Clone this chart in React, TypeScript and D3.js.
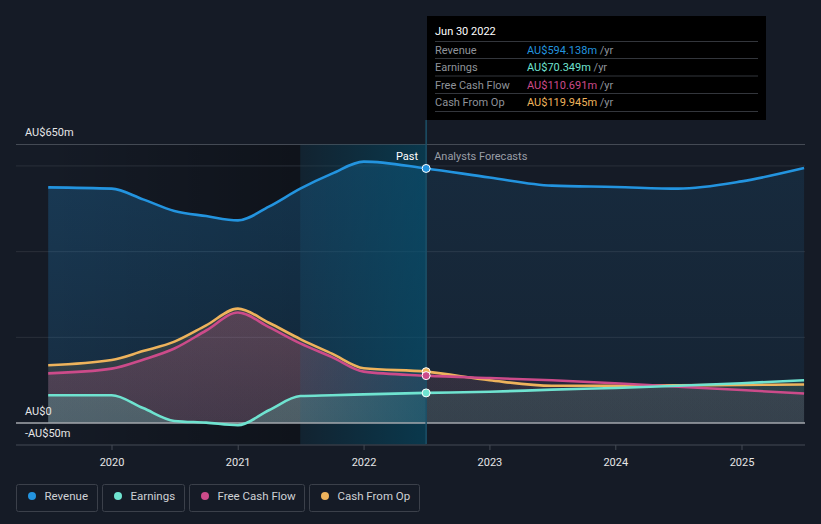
import React, { useEffect } from 'react';
import * as d3 from 'd3';

// period ends (past is quarterly, forecasts half-yearly)
const dates = [
  '2019-06-30', '2019-12-31', '2020-03-31', '2020-06-30', '2020-09-30', '2020-12-31',
  '2021-03-31', '2021-06-30', '2021-09-30', '2021-12-31', '2022-06-30', '2022-12-31',
  '2023-06-30', '2023-12-31', '2024-06-30', '2024-12-31', '2025-06-30',
];

// AU$m
const revenue = [550, 547, 522, 495, 483, 473, 505, 547, 582, 610, 594.138, 573, 554, 551, 547, 564, 595];
const earnings = [65, 65, 35, 5, 1, -5, 30, 63, 65, 67, 70.349, 73, 78, 82, 87, 93, 100];
const freeCashFlow = [116, 127, 148, 174, 216, 258, 224, 186, 154, 120, 110.691, 105, 100, 93, 85, 77, 69];
const cashFromOp = [135, 147, 168, 190, 228, 267, 234, 196, 162, 128, 119.945, 100, 87, 87, 88, 89, 90];

const yearTicks = [2020, 2021, 2022, 2023, 2024, 2025];
const gridValues = [0, 200, 400, 600];

const tooltipDate = 'Jun 30 2022';
const highlightStart = '2021-06-30';
const nowDate = '2022-06-30';

const series = [
  { name: 'Revenue', values: revenue, color: '#2394df', top: 0.26, bottom: 0.14, label: 'AU$594.138m' },
  { name: 'Earnings', values: earnings, color: '#6fe3d0', top: 0.3, bottom: 0.22, label: 'AU$70.349m' },
  { name: 'Free Cash Flow', values: freeCashFlow, color: '#cc4b8a', top: 0.3, bottom: 0.16, label: 'AU$110.691m' },
  { name: 'Cash From Op', values: cashFromOp, color: '#eeb35c', top: 0.22, bottom: 0.1, label: 'AU$119.945m' },
];

const W = 821;
const H = 524;
const FONT = 'Roboto, "Noto Sans", sans-serif';

const App = () => {
  useEffect(() => {
    document.body.style.margin = '0';
    document.body.style.background = '#151b26';
  }, []);

  const parse = d3.utcParse('%Y-%m-%d');
  const xs = dates.map(d => parse(d) as Date);

  // chart scales
  const x = d3.scaleUtc()
    .domain([new Date(Date.UTC(2020, 0, 1)), new Date(Date.UTC(2025, 0, 1))])
    .range([112, 742]);
  const y = d3.scaleLinear().domain([-50, 650]).range([444.5, 144.5]);

  const left = 16;
  const right = 805;
  const x0 = x(xs[0]);
  const xH = x(parse(highlightStart) as Date);
  const xNow = x(parse(nowDate) as Date);

  const line = (vals: number[]) =>
    d3.line<number>().x((_, i) => x(xs[i])).y(v => y(v)).curve(d3.curveMonotoneX)(vals) ?? '';
  const area = (vals: number[]) =>
    d3.area<number>().x((_, i) => x(xs[i])).y0(y(0)).y1(v => y(v)).curve(d3.curveMonotoneX)(vals) ?? '';

  const nowIdx = dates.indexOf(nowDate);
  // draw order: revenue, cash from op, fcf, earnings
  const order = [0, 3, 2, 1];

  return (
    <svg width={W} height={H} style={{ display: 'block', background: '#151b26', fontFamily: FONT }}>
      <defs>
        <linearGradient id="pastShade" x1="0" x2="1" y1="0" y2="0">
          <stop offset="0" stopColor="#000" stopOpacity={0} />
          <stop offset="1" stopColor="#000" stopOpacity={0.3} />
        </linearGradient>
        <linearGradient id="hl" x1="0" x2="1" y1="0" y2="0">
          <stop offset="0" stopColor="#00506c" stopOpacity={0.15} />
          <stop offset="1" stopColor="#00506c" stopOpacity={0.55} />
        </linearGradient>
        {series.map((s, i) => (
          <React.Fragment key={i}>
            <linearGradient id={`gp${i}`} gradientUnits="userSpaceOnUse" x1={0} x2={0} y1={y(650)} y2={y(0)}>
              <stop offset="0" stopColor={s.color} stopOpacity={s.top} />
              <stop offset="1" stopColor={s.color} stopOpacity={s.bottom} />
            </linearGradient>
            <linearGradient id={`gf${i}`} gradientUnits="userSpaceOnUse" x1={0} x2={0} y1={y(650)} y2={y(0)}>
              <stop offset="0" stopColor={s.color} stopOpacity={s.top * 0.5} />
              <stop offset="1" stopColor={s.color} stopOpacity={s.bottom * 0.5} />
            </linearGradient>
          </React.Fragment>
        ))}
        <clipPath id="pastClip"><rect x={0} y={0} width={xNow} height={H} /></clipPath>
        <clipPath id="futClip"><rect x={xNow} y={0} width={W - xNow} height={H} /></clipPath>
      </defs>

      {/* background bands */}
      <rect x={x0} y={y(650)} width={xH - x0} height={y(-50) - y(650)} fill="url(#pastShade)" />

      {/* grid */}
      <line x1={left} x2={right} y1={y(650)} y2={y(650)} stroke="#444a54" />
      {gridValues.filter(v => v > 0).map(v => (
        <line key={v} x1={left} x2={right} y1={y(v)} y2={y(v)} stroke="#2a303a" />
      ))}

      {/* areas */}
      <g clipPath="url(#pastClip)">
        {order.map(i => (
          <path key={i} d={area(series[i].values)} fill={`url(#gp${i})`} />
        ))}
      </g>
      <g clipPath="url(#futClip)">
        {order.map(i => (
          <path key={i} d={area(series[i].values)} fill={`url(#gf${i})`} />
        ))}
      </g>

      <rect x={xH} y={y(650)} width={xNow - xH} height={y(-50) - y(650)} fill="url(#hl)" />

      {/* zero line and bottom axis */}
      <line x1={left} x2={right} y1={y(0)} y2={y(0)} stroke="#a3a7ad" strokeWidth={1.5} />
      <line x1={left} x2={right} y1={445} y2={445} stroke="#444a54" />
      {yearTicks.map(t => {
        const tx = x(new Date(Date.UTC(t, 0, 1)));
        return (
          <g key={t}>
            <line x1={tx} x2={tx} y1={445} y2={450} stroke="#444a54" />
            <text x={tx} y={466} textAnchor="middle" fill="#e6e6e6" fontSize={11}>{t}</text>
          </g>
        );
      })}

      {/* lines */}
      {order.map(i => (
        <path key={i} d={line(series[i].values)} fill="none" stroke={series[i].color} strokeWidth={2.6} />
      ))}

      {/* y labels */}
      <text x={25} y={136} fill="#e6e6e6" fontSize={11}>AU$650m</text>
      <text x={25} y={415} fill="#e6e6e6" fontSize={11}>AU$0</text>
      <text x={25} y={437} fill="#e6e6e6" fontSize={11}>-AU$50m</text>

      {/* now line */}
      <line x1={xNow} x2={xNow} y1={120} y2={444} stroke="#1c5068" strokeWidth={1.5} />
      <text x={xNow - 8} y={160} textAnchor="end" fill="#ffffff" fontSize={11}>Past</text>
      <text x={xNow + 8} y={160} fill="#9a9ea6" fontSize={11}>Analysts Forecasts</text>

      {/* markers */}
      {[3, 2, 1, 0].map(i => (
        <circle key={i} cx={xNow} cy={y(series[i].values[nowIdx])} r={4}
          fill={series[i].color} stroke="#ffffff" strokeWidth={1} />
      ))}

      {/* tooltip */}
      <rect x={427} y={16} width={339} height={104} fill="#000000" />
      <text x={435} y={35} fill="#ffffff" fontSize={11}>{tooltipDate}</text>
      {[41.5, 58.5, 76, 93.5, 111.5].map(ly => (
        <line key={ly} x1={435} x2={758} y1={ly} y2={ly} stroke="#33363c" />
      ))}
      {series.map((s, i) => (
        <g key={s.name}>
          <text x={435} y={53.5 + i * 17.5} fill="#8f939a" fontSize={11}>{s.name}</text>
          <text x={527} y={53.5 + i * 17.5} fontSize={11}>
            <tspan fill={s.color}>{s.label}</tspan>
            <tspan fill="#8f939a"> /yr</tspan>
          </text>
        </g>
      ))}

      {/* legend */}
      {(() => {
        const boxes = [
          { x: 16.5, w: 81 },
          { x: 102.5, w: 82 },
          { x: 189.5, w: 115 },
          { x: 309.5, w: 110 },
        ];
        return series.map((s, i) => (
          <g key={s.name}>
            <rect x={boxes[i].x} y={484.5} width={boxes[i].w} height={27} rx={2}
              fill="none" stroke="#3b404a" />
            <circle cx={boxes[i].x + 15.5} cy={496} r={4} fill={s.color} />
            <text x={boxes[i].x + 28} y={500} fill="#cfd1d5" fontSize={11.5}>{s.name}</text>
          </g>
        ));
      })()}
    </svg>
  );
};

export default App;
